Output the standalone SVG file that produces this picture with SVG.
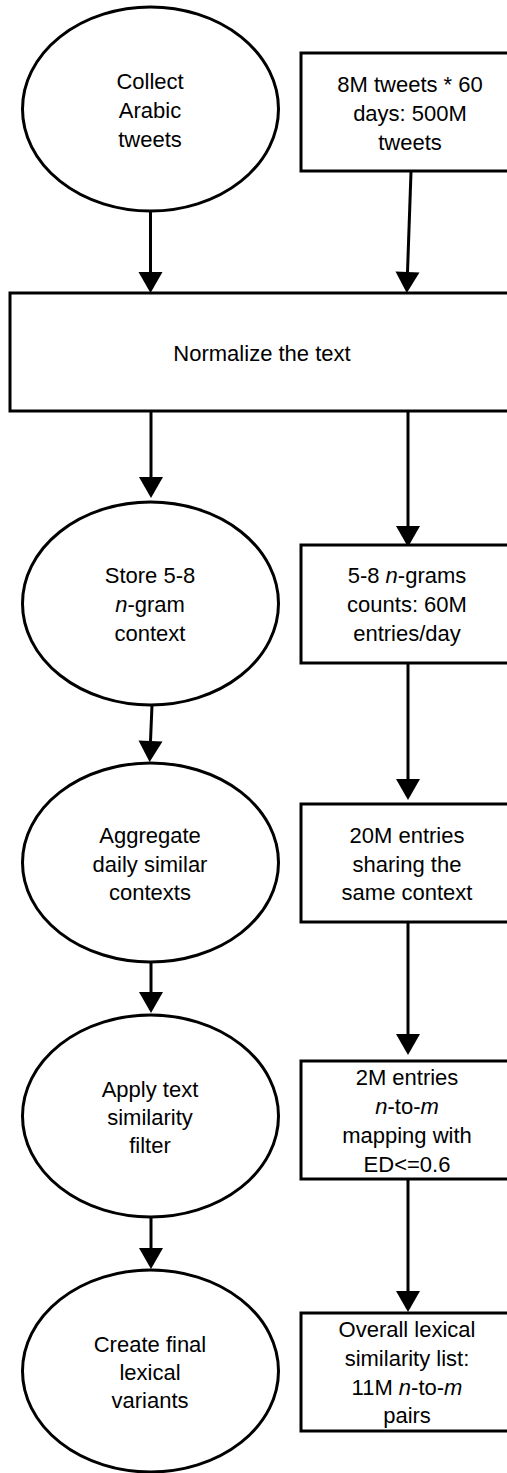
<svg xmlns="http://www.w3.org/2000/svg" width="507" height="1473" viewBox="0 0 507 1473">
  <style>
    .shape { fill: #ffffff; stroke: #000000; stroke-width: 3; }
    .conn { stroke: #000000; stroke-width: 3; fill: none; marker-end: url(#arrow); }
    text { font-family: "Liberation Sans", Arial, sans-serif; font-size: 22px; fill: #000000; text-anchor: middle; }
    .it { font-style: italic; }
  </style>
  <defs>
    <marker id="arrow" markerUnits="userSpaceOnUse" markerWidth="22" markerHeight="24" refX="0" refY="12" orient="auto" overflow="visible">
      <path d="M0,0 L21,12 L0,24 Z" fill="#000000"/>
    </marker>
  </defs>
  <rect width="507" height="1473" fill="#ffffff"/>

  <g id="connectors">
    <line class="conn" x1="150.5" y1="211" x2="150.5" y2="272"/>
    <line class="conn" x1="411" y1="172" x2="407.5" y2="272"/>
    <line class="conn" x1="151" y1="411" x2="151" y2="477"/>
    <line class="conn" x1="408" y1="411" x2="408" y2="526"/>
    <line class="conn" x1="152" y1="705" x2="150.5" y2="741"/>
    <line class="conn" x1="408" y1="663" x2="408" y2="779"/>
    <line class="conn" x1="151" y1="962" x2="151" y2="992"/>
    <line class="conn" x1="408" y1="922" x2="408" y2="1034"/>
    <line class="conn" x1="151" y1="1217" x2="151" y2="1248"/>
    <line class="conn" x1="408" y1="1179" x2="408" y2="1291"/>
  </g>

  <g id="collect">
    <ellipse class="shape" cx="150.5" cy="109" rx="128" ry="102"/>
    <text x="150" y="89">Collect</text>
    <text x="150" y="118">Arabic</text>
    <text x="150" y="147">tweets</text>
  </g>

  <g id="tweets-count">
    <rect class="shape" x="301" y="53" width="222" height="118"/>
    <text x="410" y="92">8M tweets * 60</text>
    <text x="410" y="121">days: 500M</text>
    <text x="410" y="150">tweets</text>
  </g>

  <g id="normalize">
    <rect class="shape" x="10" y="293" width="512" height="118"/>
    <text x="262" y="361">Normalize the text</text>
  </g>

  <g id="store">
    <ellipse class="shape" cx="150.5" cy="603.5" rx="128" ry="101.5"/>
    <text x="150" y="583">Store 5-8</text>
    <text x="150" y="612"><tspan class="it">n</tspan>-gram</text>
    <text x="150" y="641">context</text>
  </g>

  <g id="ngram-counts">
    <rect class="shape" x="301" y="545" width="222" height="118"/>
    <text x="407" y="583">5-8 <tspan class="it">n</tspan>-grams</text>
    <text x="407" y="612">counts: 60M</text>
    <text x="407" y="641">entries/day</text>
  </g>

  <g id="aggregate">
    <ellipse class="shape" cx="150.5" cy="862.5" rx="128" ry="99.5"/>
    <text x="150" y="843">Aggregate</text>
    <text x="150" y="872">daily similar</text>
    <text x="150" y="900">contexts</text>
  </g>

  <g id="shared-context">
    <rect class="shape" x="301" y="804" width="222" height="118"/>
    <text x="407" y="843">20M entries</text>
    <text x="407" y="872">sharing the</text>
    <text x="407" y="900">same context</text>
  </g>

  <g id="apply-filter">
    <ellipse class="shape" cx="150.5" cy="1116" rx="128" ry="101"/>
    <text x="150" y="1097">Apply text</text>
    <text x="150" y="1125">similarity</text>
    <text x="150" y="1153">filter</text>
  </g>

  <g id="mapping">
    <rect class="shape" x="301" y="1061" width="222" height="118"/>
    <text x="407" y="1085">2M entries</text>
    <text x="407" y="1114"><tspan class="it">n</tspan>-to-<tspan class="it">m</tspan></text>
    <text x="407" y="1143">mapping with</text>
    <text x="407" y="1172">ED&lt;=0.6</text>
  </g>

  <g id="create-variants">
    <ellipse class="shape" cx="150.5" cy="1371" rx="128" ry="101"/>
    <text x="150" y="1352">Create final</text>
    <text x="150" y="1380">lexical</text>
    <text x="150" y="1408">variants</text>
  </g>

  <g id="similarity-list">
    <rect class="shape" x="301" y="1313" width="222" height="118"/>
    <text x="407" y="1337">Overall lexical</text>
    <text x="407" y="1366">similarity list:</text>
    <text x="407" y="1395">11M <tspan class="it">n</tspan>-to-<tspan class="it">m</tspan></text>
    <text x="407" y="1423">pairs</text>
  </g>
</svg>
